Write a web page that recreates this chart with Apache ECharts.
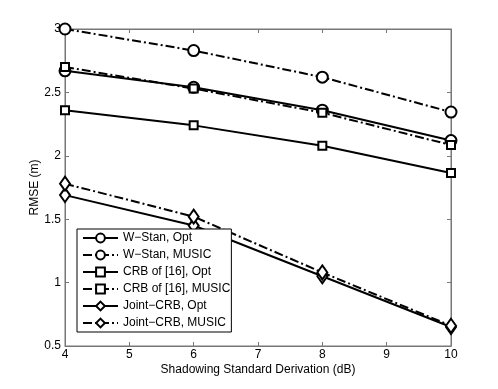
<!DOCTYPE html>
<html>
<head>
<meta charset="utf-8">
<script src="https://cdn.jsdelivr.net/npm/echarts@6/dist/echarts.min.js"></script>
<style>
html,body{margin:0;padding:0;background:#fff;}
#chart{width:498px;height:389px;}
</style>
</head>
<body>
<div id="chart"></div>
<script>
// x 轴
var xData = [4, 6, 8, 10];
// 各条曲线
var wStanOpt = [2.67, 2.54, 2.36, 2.12];
var wStanMusic = [3.0, 2.83, 2.62, 2.345];
var crbOpt = [2.36, 2.24, 2.08, 1.865];
var crbMusic = [2.70, 2.53, 2.34, 2.085];
var jointOpt = [1.69, 1.45, 1.05, 0.65];
var jointMusic = [1.78, 1.52, 1.08, 0.66];

var names = ['W\u2212Stan, Opt', 'W\u2212Stan, MUSIC', 'CRB of [16], Opt', 'CRB of [16], MUSIC', 'Joint\u2212CRB, Opt', 'Joint\u2212CRB, MUSIC'];

var dashDot = [9, 3, 2, 3];

function pair(ys) {
    var out = [];
    ys.forEach(function (v, i) { out.push([xData[i], v]); });
    return out;
}

var diamond = 'path://M0,-1L0.7,0L0,1L-0.7,0Z';

function line(name, ys, symbol, size, dashed) {
    return {
        name: name,
        type: 'line',
        data: pair(ys),
        symbol: symbol,
        symbolSize: size,
        showAllSymbol: true,
        itemStyle: { color: '#fff', borderColor: '#000', borderWidth: 2 },
        lineStyle: { color: '#000', width: 2, type: dashed ? dashDot : 'solid' },
        emphasis: { disabled: true },
        animation: false,
        z: dashed ? 3 : 2
    };
}

var myChart = echarts.init(document.getElementById('chart'));
var axisCol = '#777';
var font = 'Liberation Sans, Arial, sans-serif';
var option = {
    backgroundColor: '#fff',
    animation: false,
    grid: { left: 65, top: 29, width: 386, height: 317, show: true, borderColor: axisCol, borderWidth: 1 },
    legend: {
        orient: 'vertical',
        left: 77, top: 229,
        itemWidth: 35, itemHeight: 11, itemGap: 5,
        padding: [3, 1, 3, 5],
        backgroundColor: '#fff',
        borderColor: '#000', borderWidth: 1,
        borderRadius: 0,
        textStyle: { fontFamily: font, fontSize: 12, color: '#000' },
        data: names
    },
    xAxis: [{
        type: 'value', min: 4, max: 10, interval: 1,
        name: 'Shadowing Standard Derivation (dB)', nameLocation: 'middle', nameGap: 18,
        nameMoveOverlap: false,
        nameTextStyle: { fontFamily: font, fontSize: 12, color: '#000' },
        axisLine: { lineStyle: { color: axisCol } },
        axisTick: { inside: true, length: 4, lineStyle: { color: axisCol } },
        axisLabel: { fontFamily: font, fontSize: 12, color: '#000', margin: 3 },
        splitLine: { show: false }
    }, {
        type: 'value', min: 4, max: 10, interval: 1, position: 'top',
        axisLine: { lineStyle: { color: axisCol } },
        axisTick: { inside: true, length: 4, lineStyle: { color: axisCol } },
        axisLabel: { show: false }, splitLine: { show: false }
    }],
    yAxis: [{
        type: 'value', min: 0.5, max: 3, interval: 0.5,
        name: 'RMSE (m)', nameLocation: 'middle', nameGap: 24,
        nameMoveOverlap: false,
        nameTextStyle: { fontFamily: font, fontSize: 12, color: '#000' },
        axisLine: { show: true, lineStyle: { color: axisCol } },
        axisTick: { show: true, inside: true, length: 4, lineStyle: { color: axisCol } },
        axisLabel: { fontFamily: font, fontSize: 12, color: '#000', margin: 4 },
        splitLine: { show: false }
    }, {
        type: 'value', min: 0.5, max: 3, interval: 0.5, position: 'right',
        axisLine: { show: true, lineStyle: { color: axisCol } },
        axisTick: { show: true, inside: true, length: 4, lineStyle: { color: axisCol } },
        axisLabel: { show: false }, splitLine: { show: false }
    }],
    series: [
        line(names[0], wStanOpt, 'circle', 11, false),
        line(names[1], wStanMusic, 'circle', 11, true),
        line(names[2], crbOpt, 'rect', 8, false),
        line(names[3], crbMusic, 'rect', 8, true),
        line(names[4], jointOpt, diamond, [10, 14], false),
        line(names[5], jointMusic, diamond, [10, 14], true)
    ]
};
myChart.setOption(option);
</script>
</body>
</html>
